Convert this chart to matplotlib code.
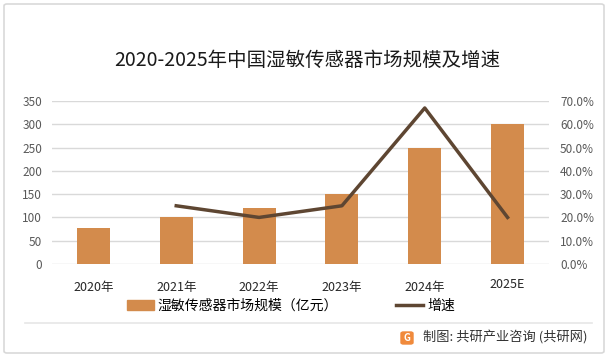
import matplotlib
matplotlib.use('Agg')
import matplotlib.pyplot as plt
import matplotlib.transforms as mtransforms
from matplotlib.patches import FancyBboxPatch
from matplotlib.lines import Line2D
from matplotlib.ticker import PercentFormatter
import numpy as np

plt.rcParams['font.family'] = ['Noto Sans CJK SC', 'DejaVu Sans']

# data
years = ['2020年', '2021年', '2022年', '2023年', '2024年', '2025E']
market_size = [78, 100, 120, 150, 250, 300]          # 亿元
growth = [np.nan, 0.25, 0.20, 0.25, 0.67, 0.20]        # 增速

bar_color = '#D38B4C'
line_color = '#5E4632'
grid_color = '#D9D9D9'
tick_color = '#595959'

W, H = 610, 358
fig = plt.figure(figsize=(W / 100, H / 100), dpi=100)

def fx(px):
    return px / W

def fy(py):
    return 1 - py / H

# outer frame
fig.patches.append(FancyBboxPatch((fx(4), fy(353)), fx(600), 349 / H,
                                  boxstyle='round,pad=0,rounding_size=0.005',
                                  transform=fig.transFigure, fill=False,
                                  edgecolor='#D9D9D9', linewidth=1.2))
# separator above the source line
fig.add_artist(Line2D([fx(25), fx(592)], [fy(323), fy(323)], transform=fig.transFigure,
                      color='#E6E6E6', linewidth=1.2))

ax = fig.add_axes([fx(52), fy(264), fx(549) - fx(52), fy(101) - fy(264)])
x = np.arange(len(years))
ax.bar(x, market_size, width=0.4, color=bar_color, zorder=2, label='湿敏传感器市场规模（亿元）')
ax.set_xlim(-0.5, len(years) - 0.5)
ax.set_ylim(0, 350)
ax.set_yticks(np.arange(0, 351, 50))
ax.grid(axis='y', color=grid_color, linewidth=1, zorder=0)
for s in ax.spines.values():
    s.set_visible(False)
ax.tick_params(axis='y', length=0, labelsize=8.5, labelcolor=tick_color, pad=7)
ax.tick_params(axis='x', length=0, labelsize=9, labelcolor='#262626', pad=12)
ax.set_xticks(x, years)
# the 2025E label sits a little higher in the original
last = ax.get_xticklabels()[-1]
last.set_transform(last.get_transform() + mtransforms.ScaledTranslation(0, 3 / 100, fig.dpi_scale_trans))

ax2 = ax.twinx()
ax2.plot(x, growth, color=line_color, linewidth=2.5, zorder=3, label='增速')
ax2.set_ylim(0, 0.7)
ax2.set_yticks(np.arange(0, 0.71, 0.1))
ax2.yaxis.set_major_formatter(PercentFormatter(1.0, decimals=1))
for s in ax2.spines.values():
    s.set_visible(False)
ax2.tick_params(axis='y', length=0, labelsize=8.5, labelcolor=tick_color, pad=8)

fig.text(0.503, fy(60), '2020-2025年中国湿敏传感器市场规模及增速', ha='center', va='center',
         fontsize=14, color='#1a1a1a')

handles = [plt.Rectangle((0, 0), 1, 1, color=bar_color),
           Line2D([0], [0], color=line_color, linewidth=2.5)]
fig.legend(handles, ['湿敏传感器市场规模（亿元）', '增速'], loc='center',
           bbox_to_anchor=(fx(291), fy(306)), ncol=2, frameon=False, fontsize=10,
           handlelength=1.9, handletextpad=0.3, columnspacing=4.2)

# source
fig.patches.append(FancyBboxPatch((fx(401), fy(344)), fx(12), 12 / H,
                                  boxstyle='round,pad=0,rounding_size=0.004',
                                  transform=fig.transFigure, color='#F08A3C'))
fig.text(fx(407), fy(338), 'G', ha='center', va='center', fontsize=7, color='white',
         fontweight='bold')
fig.text(fx(423), fy(338), '制图: 共研产业咨询 (共研网)', ha='left', va='center',
         fontsize=9.5, color='#333333')

fig.savefig('out.png', dpi=100)
